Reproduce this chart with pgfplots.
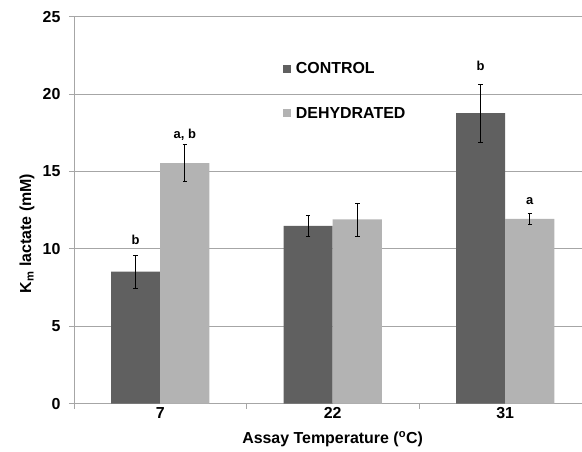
\documentclass[border=0pt]{standalone}
\usepackage{pgfplots}
\usepackage{pgfplotstable}
\pgfplotsset{compat=1.18}
\usepackage{fontspec}
\setmainfont{Liberation Sans}

\definecolor{ctrl}{RGB}{96,96,96}
\definecolor{dehy}{RGB}{179,179,179}
\definecolor{gridc}{RGB}{166,166,166}

\pgfplotsset{sqleg/.style={legend image code/.code={\fill[##1] (0bp,-4bp) rectangle (8bp,4bp);}}}

% K_m lactate (mM) by assay temperature: x = category index, err = +/- error
\pgfplotstableread{
x y err
0 8.53 1.05
1 11.49 0.67
2 18.77 1.88
}\control
\pgfplotstableread{
x y err
0 15.54 1.18
1 11.90 1.07
2 11.94 0.37
}\dehydrated

\begin{document}
\begin{tikzpicture}
\begin{axis}[
    scale only axis,
    width=508bp, height=387bp,
    xmin=-0.5, xmax=2.445,
    ymin=0, ymax=25,
    ytick={0,5,...,25},
    xtick={-0.5,0.5,1.5}, xticklabels={},
    extra x ticks={0,1,2},
    extra x tick labels={7,22,31},
    extra x tick style={major tick length=0pt},
    axis x line=bottom, axis y line=left,
    axis line style={-, gridc, line width=0.8bp},
    tick align=outside,
    major tick length=5bp,
    tick style={gridc, line width=0.8bp},
    ymajorgrids,
    grid style={gridc, line width=0.8bp},
    ticklabel style={font=\bfseries\fontsize{16}{18}\selectfont},
    yticklabel style={xshift=-5bp},
    /pgf/number format/assume math mode=true,
    xlabel={Assay Temperature (\textsuperscript{o}C)},
    ylabel={K\textsubscript{m} lactate (mM)},
    label style={font=\bfseries\fontsize{16}{18}\selectfont},
    xlabel style={at={(axis description cs:0.509,-0.0912)}, anchor=center},
    ylabel style={at={(axis description cs:-0.0925,0.44)}, anchor=center},
    legend style={draw=none, fill=none,
        at={(axis description cs:0.405,0.808)}, anchor=west,
        font=\bfseries\fontsize{16}{18}\selectfont,
        row sep=28bp,
        /tikz/every odd column/.append style={column sep=3bp}},
    legend cell align=left,
]
\addplot[ybar, bar width=0.285, fill=ctrl, draw=none, sqleg,
    error bars/.cd, y dir=both, y explicit,
    error bar style={draw=black, line width=0.8bp},
    error mark options={rotate=90, draw=black, mark size=2.2bp, line width=0.8bp}]
    table[x expr=\thisrow{x}-0.1425, y=y, y error=err] {\control};
\addlegendentry{CONTROL}
\addplot[ybar, bar width=0.285, fill=dehy, draw=none, sqleg,
    error bars/.cd, y dir=both, y explicit,
    error bar style={draw=black, line width=0.8bp},
    error mark options={rotate=90, draw=black, mark size=2.2bp, line width=0.8bp}]
    table[x expr=\thisrow{x}+0.1425, y=y, y error=err] {\dehydrated};
\addlegendentry{DEHYDRATED}
% significance letters
\addplot[draw=none, nodes near coords, point meta=explicit symbolic,
    every node near coord/.append style={anchor=center, black,
        font=\bfseries\fontsize{13}{15}\selectfont}]
    coordinates {(-0.1425,10.6) [b] (0.1425,17.4) [{a, b}]
                 (1.8575,21.8) [b] (2.1425,13.1) [a]};
\end{axis}
\pgfresetboundingbox
\useasboundingbox (-74bp,-48.3bp) rectangle (508bp,403.7bp);
\end{tikzpicture}
\end{document}
